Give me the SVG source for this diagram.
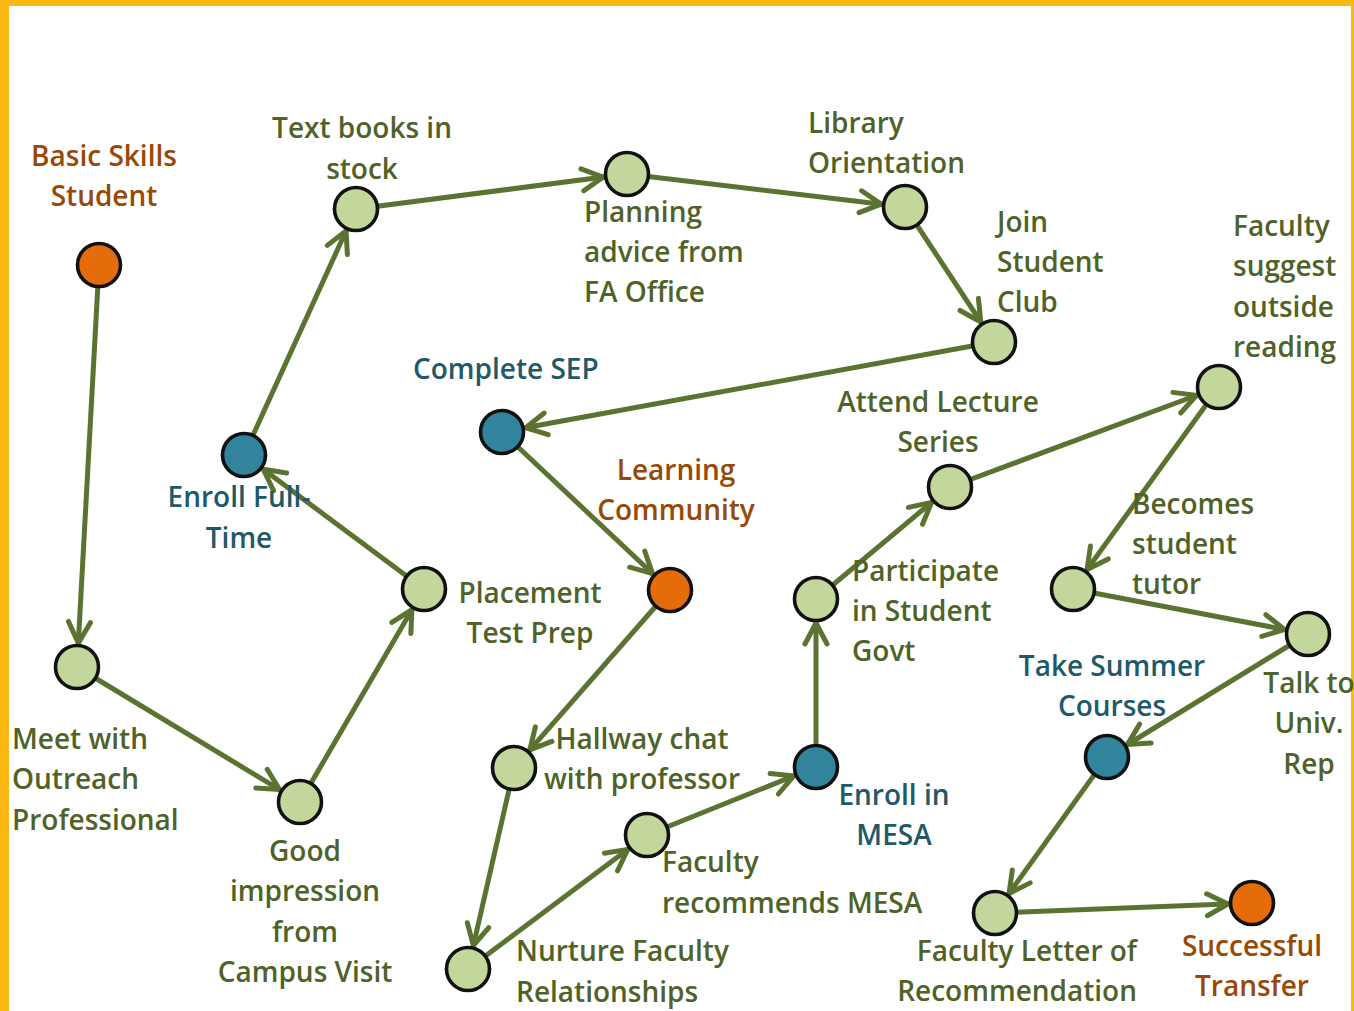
<svg xmlns="http://www.w3.org/2000/svg" width="1354" height="1011" viewBox="0 0 1354 1011">
<defs>
<style>
text{font-family:"Open Sans","Liberation Sans",sans-serif;font-size:28px;font-weight:600}
.g{fill:#4f6228}
.o{fill:#984807}
.b{fill:#215968}
.m{text-anchor:middle}
.e{text-anchor:end}
.n{stroke:#111;stroke-width:3.6}
.ng{fill:#c3d69b}
.no{fill:#e46c0a}
.nb{fill:#31849b}
.c line{stroke:#5b7330;stroke-width:5;marker-end:url(#arr)}
</style>
<marker id="arr" markerUnits="userSpaceOnUse" orient="auto" refX="0" refY="0" markerWidth="60" markerHeight="30" overflow="visible">
<path d="M-45,-11 L-24,0 L-45,11" fill="none" stroke="#5b7330" stroke-width="5" stroke-linecap="round" stroke-linejoin="miter"/>
</marker>
</defs>
<rect x="0" y="0" width="1354" height="1011" fill="#fff"/>
<rect x="0" y="0" width="1354" height="6" fill="#fdb913"/>
<rect x="0" y="0" width="9" height="1011" fill="#fdb913"/>
<rect x="1351" y="0" width="3" height="1011" fill="#fdb913"/>

<g id="connectors" class="c">
<line x1="99" y1="265" x2="77" y2="667"/>
<line x1="77" y1="667" x2="300" y2="802"/>
<line x1="300" y1="802" x2="424" y2="589"/>
<line x1="424" y1="589" x2="244" y2="455"/>
<line x1="244" y1="455" x2="356" y2="209"/>
<line x1="356" y1="209" x2="627" y2="174"/>
<line x1="627" y1="174" x2="905" y2="207"/>
<line x1="905" y1="207" x2="994" y2="342"/>
<line x1="994" y1="342" x2="502" y2="432"/>
<line x1="502" y1="432" x2="670" y2="590"/>
<line x1="670" y1="590" x2="514" y2="768"/>
<line x1="514" y1="768" x2="468" y2="969"/>
<line x1="468" y1="969" x2="647" y2="835"/>
<line x1="647" y1="835" x2="816" y2="767"/>
<line x1="816" y1="767" x2="816" y2="599"/>
<line x1="816" y1="599" x2="950" y2="487"/>
<line x1="950" y1="487" x2="1219" y2="387"/>
<line x1="1219" y1="387" x2="1073" y2="589"/>
<line x1="1073" y1="589" x2="1308" y2="634"/>
<line x1="1308" y1="634" x2="1107" y2="757"/>
<line x1="1107" y1="757" x2="995" y2="913"/>
<line x1="995" y1="913" x2="1252" y2="903"/>
</g>

<g id="n-basic"><circle class="n no" cx="99" cy="265" r="21.5"/><text class="o m" x="104" y="166">Basic Skills</text><text class="o m" x="104" y="206">Student</text></g>
<g id="n-outreach"><circle class="n ng" cx="77" cy="667" r="21.5"/><text class="g" x="12" y="749">Meet with</text><text class="g" x="12" y="789">Outreach</text><text class="g" x="12" y="830">Professional</text></g>
<g id="n-impression"><circle class="n ng" cx="300" cy="802" r="21.5"/><text class="g m" x="305" y="861">Good</text><text class="g m" x="305" y="901">impression</text><text class="g m" x="305" y="942">from</text><text class="g m" x="305" y="982">Campus Visit</text></g>
<g id="n-placement"><circle class="n ng" cx="424" cy="589" r="21.5"/><text class="g m" x="530" y="603">Placement</text><text class="g m" x="530" y="643">Test Prep</text></g>
<g id="n-fulltime"><circle class="n nb" cx="244" cy="455" r="21.5"/><text class="b m" x="239" y="507">Enroll Full-</text><text class="b m" x="239" y="548">Time</text></g>
<g id="n-textbooks"><circle class="n ng" cx="356" cy="209" r="21.5"/><text class="g m" x="362" y="138">Text books in</text><text class="g m" x="362" y="179">stock</text></g>
<g id="n-planning"><circle class="n ng" cx="627" cy="174" r="21.5"/><text class="g" x="584" y="222">Planning</text><text class="g" x="584" y="262">advice from</text><text class="g" x="584" y="302">FA Office</text></g>
<g id="n-library"><circle class="n ng" cx="905" cy="207" r="21.5"/><text class="g" x="808" y="133">Library</text><text class="g" x="808" y="173">Orientation</text></g>
<g id="n-club"><circle class="n ng" cx="994" cy="342" r="21.5"/><text class="g" x="997" y="232">Join</text><text class="g" x="997" y="272">Student</text><text class="g" x="997" y="312">Club</text></g>
<g id="n-sep"><circle class="n nb" cx="502" cy="432" r="21.5"/><text class="b" x="413" y="379">Complete SEP</text></g>
<g id="n-learning"><circle class="n no" cx="670" cy="590" r="21.5"/><text class="o m" x="676" y="480">Learning</text><text class="o m" x="676" y="520">Community</text></g>
<g id="n-hallway"><circle class="n ng" cx="514" cy="768" r="21.5"/><text class="g m" x="642" y="749">Hallway chat</text><text class="g m" x="642" y="789">with professor</text></g>
<g id="n-nurture"><circle class="n ng" cx="468" cy="969" r="21.5"/><text class="g" x="516" y="961">Nurture Faculty</text><text class="g" x="516" y="1002">Relationships</text></g>
<g id="n-recommends"><circle class="n ng" cx="647" cy="835" r="21.5"/><text class="g" x="662" y="872">Faculty</text><text class="g" x="662" y="913">recommends MESA</text></g>
<g id="n-mesa"><circle class="n nb" cx="816" cy="767" r="21.5"/><text class="b m" x="894" y="805">Enroll in</text><text class="b m" x="894" y="845">MESA</text></g>
<g id="n-govt"><circle class="n ng" cx="816" cy="599" r="21.5"/><text class="g" x="852" y="581">Participate</text><text class="g" x="852" y="621">in Student</text><text class="g" x="852" y="661">Govt</text></g>
<g id="n-lecture"><circle class="n ng" cx="950" cy="487" r="21.5"/><text class="g m" x="938" y="412">Attend Lecture</text><text class="g m" x="938" y="452">Series</text></g>
<g id="n-reading"><circle class="n ng" cx="1219" cy="387" r="21.5"/><text class="g" x="1233" y="236">Faculty</text><text class="g" x="1233" y="276">suggest</text><text class="g" x="1233" y="317">outside</text><text class="g" x="1233" y="357">reading</text></g>
<g id="n-tutor"><circle class="n ng" cx="1073" cy="589" r="21.5"/><text class="g" x="1132" y="514">Becomes</text><text class="g" x="1132" y="554">student</text><text class="g" x="1132" y="594">tutor</text></g>
<g id="n-univ"><circle class="n ng" cx="1308" cy="634" r="21.5"/><text class="g m" x="1309" y="693">Talk to</text><text class="g m" x="1309" y="733">Univ.</text><text class="g m" x="1309" y="774">Rep</text></g>
<g id="n-summer"><circle class="n nb" cx="1107" cy="757" r="21.5"/><text class="b m" x="1112" y="676">Take Summer</text><text class="b m" x="1112" y="716">Courses</text></g>
<g id="n-letter"><circle class="n ng" cx="995" cy="913" r="21.5"/><text class="g e" x="1137" y="961">Faculty Letter of</text><text class="g e" x="1137" y="1001">Recommendation</text></g>
<g id="n-transfer"><circle class="n no" cx="1252" cy="903" r="21.5"/><text class="o m" x="1252" y="956">Successful</text><text class="o m" x="1252" y="996">Transfer</text></g>
</svg>
